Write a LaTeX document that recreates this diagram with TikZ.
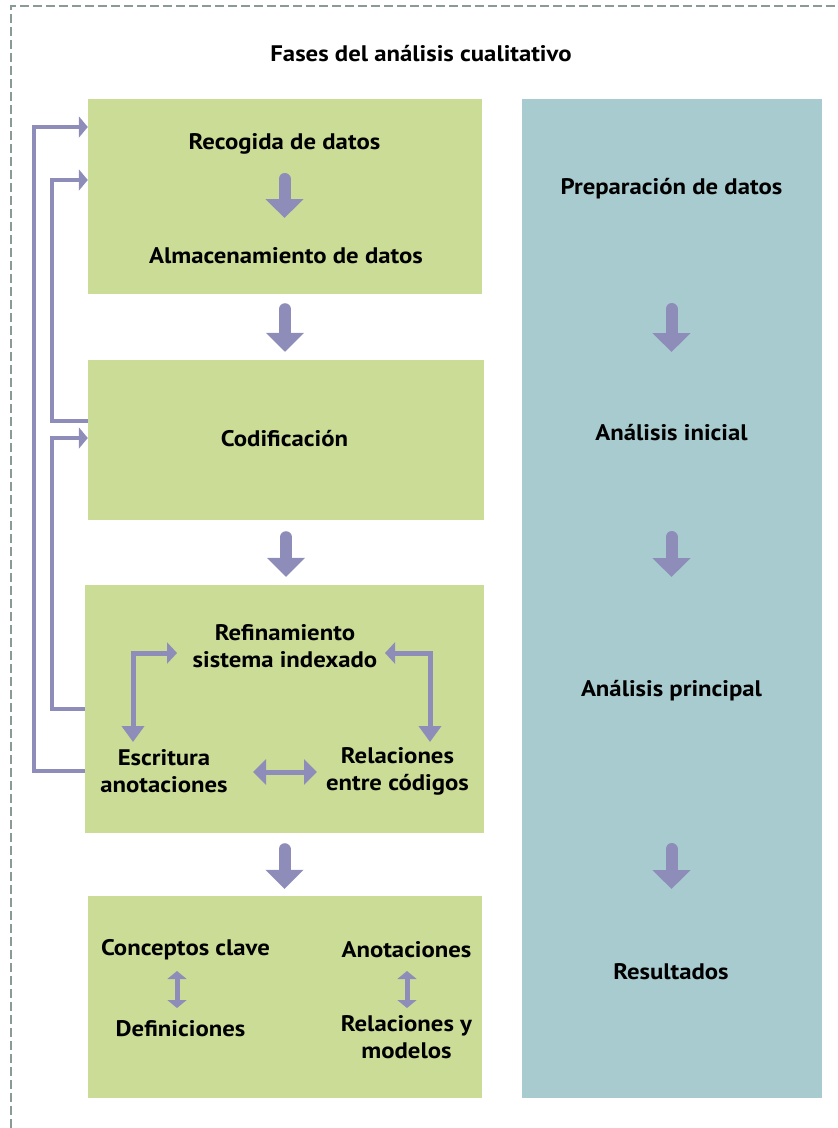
\documentclass[tikz,border=0pt]{standalone}
\usepackage{fontspec}
\setmainfont{PT Sans}[FakeStretch=1.1]
\usetikzlibrary{arrows.meta,calc}
\definecolor{boxgreen}{HTML}{CBDC96}
\definecolor{boxteal}{HTML}{A8CBCF}
\definecolor{arrcol}{HTML}{8E8DB9}
\definecolor{dashcol}{HTML}{8A9A94}
\begin{document}
\begin{tikzpicture}[x=1pt,y=-1pt,
  every node/.style={font=\bfseries\fontsize{22.5}{27}\selectfont, align=center, inner sep=0pt},
  gbox/.style={fill=boxgreen, draw=none},
  tbox/.style={fill=boxteal, draw=none},
  bigarr/.style={draw=arrcol, line width=12pt, line cap=round, -{Triangle[width=37pt,length=19pt]}},
  fbline/.style={draw=arrcol, line width=4pt, -{Triangle[width=21pt,length=9pt]}},
  elbow/.style={draw=arrcol, line width=5pt, {Triangle[width=21pt,length=10pt]}-{Triangle[width=22pt,length=16pt]}},
  dbl/.style={draw=arrcol, line width=5pt, {Triangle[width=25pt,length=13pt]}-{Triangle[width=25pt,length=13pt]}},
  small/.style={draw=arrcol, line width=5pt, {Triangle[width=19pt,length=8pt]}-{Triangle[width=19pt,length=8pt]}},
  border/.style={draw=dashcol, line width=1.3pt, dash pattern=on 9pt off 4pt}]
\useasboundingbox (0,0) rectangle (838,1128);
% dashed frame
\coordinate (fb1) at (11,1128);
\coordinate (fb2) at (11,6);
\coordinate (fb3) at (838,6);
\draw[border] (fb1) -- (fb2) -- (fb3);

% title
\node (title) at (421,54) {Fases del análisis cualitativo};

% boxes
\node[gbox, minimum width=394pt, minimum height=195pt] (box1) at (285,196.5) {};
\node[gbox, minimum width=396pt, minimum height=160pt] (box2) at (286,440) {};
\node[gbox, minimum width=399pt, minimum height=248pt] (box3) at (284.5,709) {};
\node[gbox, minimum width=394pt, minimum height=202pt] (box4) at (285,997) {};
\node[tbox, minimum width=300pt, minimum height=999pt] (rbox) at (672,598.5) {};

% texts
\node (rec) at (284.5,144) {Recogida de datos};
\node (alm) at (286,256) {Almacenamiento de datos};
\node (cod) at (284.5,439) {Codificación};
\node (ref) at (285,646.5) {Refinamiento\\sistema indexado};
\node (escr) at (164,771.5) {Escritura\\anotaciones};
\node (rel) at (397.5,771.5) {Relaciones\\entre códigos};
\node (conc) at (185.5,950) {Conceptos clave};
\node (defs) at (180.5,1029) {Definiciones};
\node (anot) at (406.5,950) {Anotaciones};
\node (relm) at (406.5,1037.5) {Relaciones y\\modelos};

\node (prep) at (671.5,189) {Preparación de datos};
\node (ini) at (671.5,433) {Análisis inicial};
\node (princ) at (671.5,691) {Análisis principal};
\node (res) at (671,972) {Resultados};

% big arrows
\draw[bigarr, shorten <=35pt, shorten >=38pt] (rec.center) -- (rec.center |- alm.center);
\draw[bigarr, shorten <=15pt, shorten >=8pt] (box1.south) -- (box1.south |- box2.north);
\draw[bigarr, shorten <=17pt, shorten >=8pt] (box2.south) -- (box2.south |- box3.north);
\draw[bigarr, shorten <=16pt, shorten >=7pt] (box3.south) -- (box3.south |- box4.north);

\draw[bigarr, shorten <=120pt, shorten >=81pt] (prep.center) -- (prep.center |- ini.center);
\draw[bigarr, shorten <=104pt, shorten >=114pt] (ini.center) -- (ini.center |- princ.center);
\draw[bigarr, shorten <=158pt, shorten >=83pt] (princ.center) -- (princ.center |- res.center);

% feedback lines
\draw[fbline] ([yshift=19pt]box2.west) -- ++(-36,0) |- ([yshift=16.5pt]box1.west);
\draw[fbline] (box3.west) -- ++(-33,0) |- ([yshift=2pt]box2.west);
\draw[fbline] ([yshift=-62pt]box3.west) -- ++(-51,0) |- ([yshift=69.5pt]box1.west);

% arrows inside box3
\draw[elbow] ([xshift=-108pt,yshift=-6.5pt]ref.center) -| ([xshift=-31pt,yshift=29.5pt]escr.center);
\draw[elbow] ([xshift=100pt,yshift=-6.5pt]ref.center) -| ([xshift=32.5pt,yshift=29.5pt]rel.center);
\draw[dbl] ([xshift=89pt,yshift=-0.5pt]escr.center) -- ([xshift=-80.5pt,yshift=-0.5pt]rel.center);

% arrows inside box4
\draw[small] ([xshift=-8.5pt,yshift=-21pt]conc.center) -- ([xshift=-3.5pt,yshift=21pt]defs.center);
\draw[small] ([xshift=0.5pt,yshift=-21pt]anot.center) -- ([xshift=0.5pt,yshift=29.5pt]relm.center);
\end{tikzpicture}
\end{document}
